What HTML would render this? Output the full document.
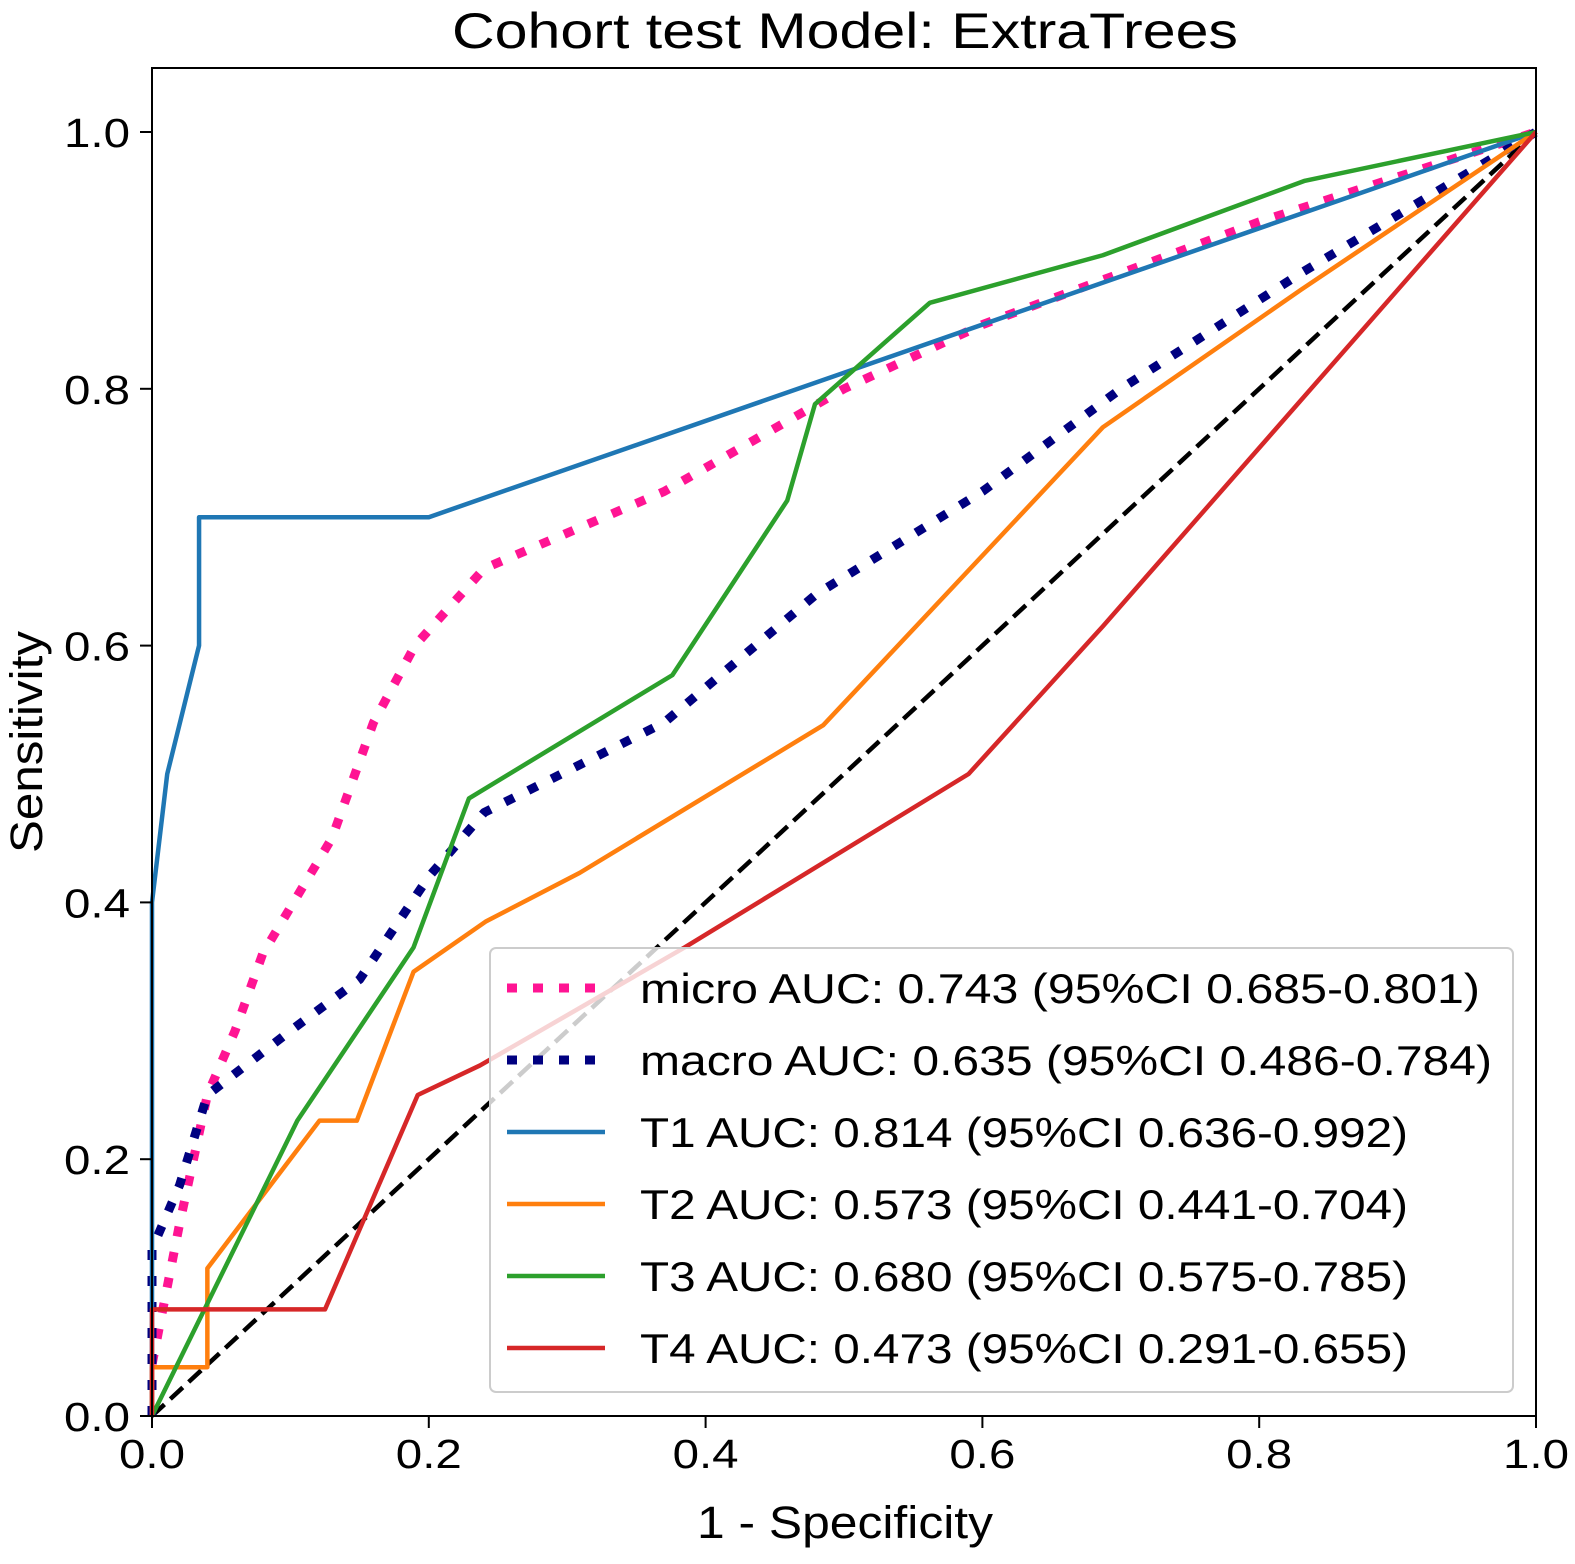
<!DOCTYPE html>
<html><head><meta charset="utf-8"><style>
html,body{margin:0;padding:0;background:#fff;}
svg{display:block;font-family:"Liberation Sans","DejaVu Sans",sans-serif;}
</style></head><body>
<svg id="chart" width="1575" height="1564" viewBox="0 0 1575 1564">
<g id="plot"></g>
</svg>
<script>
const ticks=[0,0.2,0.4,0.6,0.8,1.0];
const tickLabels=["0.0","0.2","0.4","0.6","0.8","1.0"];
const t1x=[0,0,0.011,0.034,0.034,0.2,1];
const t1y=[0,0.4,0.5,0.6,0.7,0.7,1];
const t2x=[0,0,0.04,0.04,0.121,0.148,0.189,0.241,0.309,0.485,0.687,0.83,1];
const t2y=[0,0.038,0.038,0.115,0.23,0.23,0.346,0.385,0.423,0.538,0.77,0.877,1];
const t3x=[0,0.105,0.189,0.229,0.376,0.459,0.479,0.562,0.687,0.833,1];
const t3y=[0,0.23,0.365,0.481,0.577,0.713,0.788,0.867,0.904,0.962,1];
const t4x=[0,0,0.125,0.192,0.237,0.385,0.59,0.687,1];
const t4y=[0,0.083,0.083,0.25,0.273,0.365,0.5,0.615,1];
const microX=[0,0,0.02,0.04,0.06,0.08,0.13,0.16,0.19,0.24,0.37,0.5,0.6,0.8,1];
const microY=[0,0.04,0.15,0.25,0.3,0.36,0.45,0.54,0.6,0.66,0.72,0.8,0.85,0.93,1];
const macroX=[0,0,0.02,0.04,0.1,0.15,0.2,0.24,0.37,0.48,0.6,0.7,0.83,1];
const macroY=[0,0.13,0.18,0.25,0.3,0.34,0.42,0.47,0.54,0.64,0.72,0.8,0.89,1];
const legendLabels=["micro AUC: 0.743 (95%CI 0.685-0.801)","macro AUC: 0.635 (95%CI 0.486-0.784)","T1 AUC: 0.814 (95%CI 0.636-0.992)","T2 AUC: 0.573 (95%CI 0.441-0.704)","T3 AUC: 0.680 (95%CI 0.575-0.785)","T4 AUC: 0.473 (95%CI 0.291-0.655)"];
const legendWidths=[840,852,768,768,768,768];

const X0=152,X1=1536,Y0=1416,Y1=132;
const sx=v=>X0+v*(X1-X0), sy=v=>Y0-v*(Y0-Y1);
const NS="http://www.w3.org/2000/svg";
const g=document.getElementById('plot');
function mk(tag,attrs,parent){const e=document.createElementNS(NS,tag);for(const k in attrs)e.setAttribute(k,attrs[k]);(parent||g).appendChild(e);return e;}
function txt(s,attrs){const e=mk('text',attrs);e.textContent=s;return e;}

const series=[
 {x:t1x,y:t1y,c:"#1f77b4",d:"",w:4.5,n:"t1-curve"},
 {x:t2x,y:t2y,c:"#ff7f0e",d:"",w:4.5,n:"t2-curve"},
 {x:t3x,y:t3y,c:"#2ca02c",d:"",w:4.5,n:"t3-curve"},
 {x:t4x,y:t4y,c:"#d62728",d:"",w:4.5,n:"t4-curve"},
];
const diag=mk('line',{x1:sx(0),y1:sy(0),x2:sx(1),y2:sy(1),stroke:"#000","stroke-width":4.5,"stroke-dasharray":"17 8"});


const avgSeries=[
 {x:microX,y:microY,c:"deeppink",d:"10 16",w:9,n:"micro-average-curve"},
 {x:macroX,y:macroY,c:"navy",d:"10 16",w:9,n:"macro-average-curve"}
];
[...avgSeries,...series].forEach(s=>{
 const p=mk('polyline',{points:s.x.map((v,i)=>sx(v)+","+sy(s.y[i])).join(" "),fill:"none",stroke:s.c,"stroke-width":s.w,"stroke-dasharray":s.d,"stroke-linejoin":"round"});
 
 
});

const fr=mk('rect',{x:X0,y:68,width:X1-X0,height:Y0-68,fill:"none",stroke:"#000","stroke-width":2});



ticks.forEach((t,i)=>{
 mk('line',{x1:sx(t),y1:Y0,x2:sx(t),y2:Y0+12,stroke:"#000","stroke-width":2});
 const xl=txt(tickLabels[i],{x:sx(t),y:Y0+52,"font-size":41,"text-anchor":"middle",textLength:66,lengthAdjust:"spacingAndGlyphs"});
 
 
 mk('line',{x1:X0,y1:sy(t),x2:X0-12,y2:sy(t),stroke:"#000","stroke-width":2});
 const yl=txt(tickLabels[i],{x:X0-22,y:sy(t)+15,"font-size":41,"text-anchor":"end",textLength:66,lengthAdjust:"spacingAndGlyphs"});
 
 
});

const tt=txt("Cohort test Model: ExtraTrees",{x:845,y:48,"font-size":50,"text-anchor":"middle",textLength:786,lengthAdjust:"spacingAndGlyphs"});


const xa=txt("1 - Specificity",{x:845,y:1538,"font-size":45,"text-anchor":"middle",textLength:296,lengthAdjust:"spacingAndGlyphs"});


const ya=txt("Sensitivity",{x:0,y:0,"font-size":45,"text-anchor":"middle",textLength:222,lengthAdjust:"spacingAndGlyphs",transform:"translate(42,742) rotate(-90)"});



const lb=mk('rect',{x:490,y:948,width:1023,height:444,rx:6,fill:"rgba(255,255,255,0.8)",stroke:"#ccc","stroke-width":2});


const lc=["deeppink","navy","#1f77b4","#ff7f0e","#2ca02c","#d62728"];
legendLabels.forEach((s,i)=>{
 const yy=988+i*72;
 const dotted=i<2;
 mk('line',{x1:507,y1:yy,x2:605,y2:yy,stroke:lc[i],"stroke-width":dotted?9:4.5,"stroke-dasharray":dotted?"10 16":""});
 const t=txt(s,{x:640,y:yy+15,"font-size":42,textLength:legendWidths[i],lengthAdjust:"spacingAndGlyphs"});
 
 
});
</script>
</body></html>
